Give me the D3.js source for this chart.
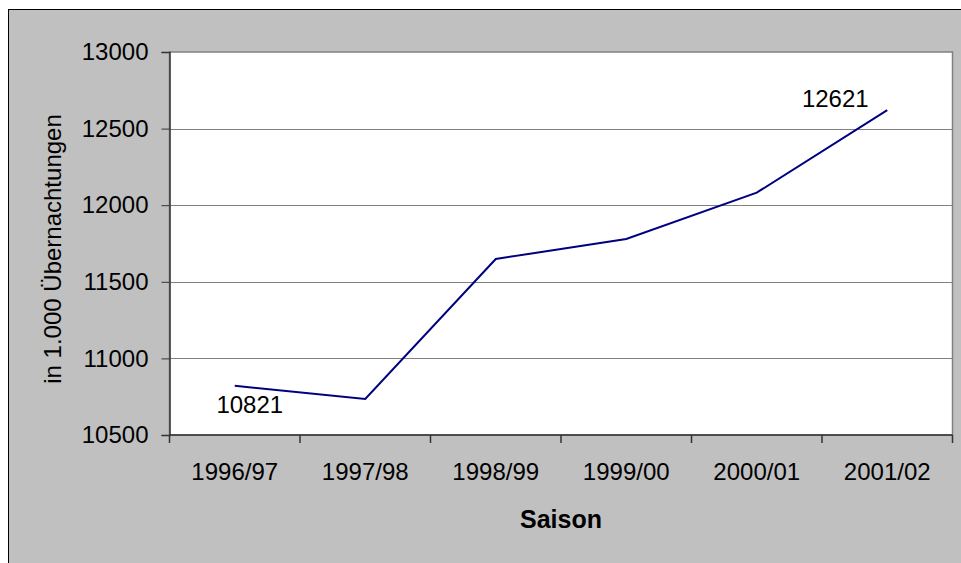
<!DOCTYPE html>
<html>
<head>
<meta charset="utf-8">
<script src="https://cdn.jsdelivr.net/npm/d3@7"></script>
<style>
  body { margin: 0; background: #fff; }
  svg { display: block; font-family: Arial, "Liberation Sans", sans-serif; }
</style>
</head>
<body>
<script>
//chart data
var seasons = ["1996/97", "1997/98", "1998/99", "1999/00", "2000/01", "2001/02"];
var nights = [10821, 10735, 11649, 11779, 12082, 12621];
var yTicks = [10500, 11000, 11500, 12000, 12500, 13000];
var labelled = [0, 5]; //points with a data label

window.onload = drawChart();

function drawChart(){
    var width = 961,
        height = 563;

    var svg = d3.select("body")
        .append("svg")
        .attr("width", width)
        .attr("height", height);

    //outer chart area (runs off the right and bottom edge)
    svg.append("rect")
        .attr("x", 8.5)
        .attr("y", 9.5)
        .attr("width", 970)
        .attr("height", 580)
        .attr("fill", "#c0c0c0")
        .attr("stroke", "#000")
        .attr("stroke-width", 1);

    //plot area bounds
    var left = 169.5, right = 952.5, top = 52, bottom = 435;

    var x = d3.scaleBand()
        .domain(seasons)
        .range([left, right]);

    var y = d3.scaleLinear()
        .domain([10500, 13000])
        .range([bottom, top]);

    svg.append("rect")
        .attr("x", left)
        .attr("y", top)
        .attr("width", right - left)
        .attr("height", bottom - top)
        .attr("fill", "#fff")
        .attr("stroke", "#808080")
        .attr("stroke-width", 1.5);

    //gridlines
    svg.selectAll(".grid")
        .data(yTicks.slice(1, -1))
        .enter()
        .append("line")
        .attr("class", "grid")
        .attr("x1", left)
        .attr("x2", right)
        .attr("y1", function(d){ return Math.round(y(d)) + 0.5; })
        .attr("y2", function(d){ return Math.round(y(d)) + 0.5; })
        .attr("stroke", "#808080")
        .attr("stroke-width", 1);

    //y axis
    var yAxis = svg.append("g")
        .attr("transform", "translate(" + left + ",0)")
        .call(d3.axisLeft(y).tickValues(yTicks).tickSize(8).tickPadding(13).tickFormat(d3.format("d")));
    yAxis.select(".domain").attr("stroke", "#333").attr("stroke-width", 1.5);
    yAxis.selectAll(".tick line").attr("stroke", "#333");
    yAxis.selectAll(".tick text")
        .attr("font-size", "24px")
        .attr("fill", "#000")
        .attr("font-family", "Arial, 'Liberation Sans', sans-serif");

    //x axis, ticks between the categories
    var bounds = d3.range(seasons.length + 1).map(function(i){ return left + i * x.step(); });
    svg.append("line")
        .attr("x1", left)
        .attr("x2", right)
        .attr("y1", bottom)
        .attr("y2", bottom)
        .attr("stroke", "#333")
        .attr("stroke-width", 1.5);
    svg.selectAll(".xtick")
        .data(bounds)
        .enter()
        .append("line")
        .attr("class", "xtick")
        .attr("x1", function(d){ return d; })
        .attr("x2", function(d){ return d; })
        .attr("y1", bottom)
        .attr("y2", bottom + 8)
        .attr("stroke", "#333")
        .attr("stroke-width", 1.5);
    svg.selectAll(".xlabel")
        .data(seasons)
        .enter()
        .append("text")
        .attr("class", "xlabel")
        .attr("x", function(d){ return x(d) + x.bandwidth() / 2; })
        .attr("y", 480)
        .attr("text-anchor", "middle")
        .attr("font-size", "24px")
        .text(function(d){ return d; });

    //axis titles
    svg.append("text")
        .attr("x", (left + right) / 2)
        .attr("y", 528)
        .attr("text-anchor", "middle")
        .attr("font-size", "25px")
        .attr("font-weight", "bold")
        .text("Saison");

    svg.append("text")
        .attr("transform", "translate(61,249) rotate(-90)")
        .attr("text-anchor", "middle")
        .attr("font-size", "24px")
        .text("in 1.000 Übernachtungen");

    //line
    var line = d3.line()
        .x(function(d, i){ return x(seasons[i]) + x.bandwidth() / 2; })
        .y(function(d){ return y(d); });

    svg.append("path")
        .datum(nights)
        .attr("d", line)
        .attr("fill", "none")
        .attr("stroke", "#000080")
        .attr("stroke-width", 2);

    //data labels
    svg.selectAll(".dlabel")
        .data(labelled)
        .enter()
        .append("text")
        .attr("class", "dlabel")
        .attr("x", function(i){ return x(seasons[i]) + x.bandwidth() / 2 + (i === 0 ? 15 : -52); })
        .attr("y", function(i){ return y(nights[i]) + (i === 0 ? 27 : -3); })
        .attr("text-anchor", "middle")
        .attr("font-size", "24px")
        .text(function(i){ return nights[i]; });
}
</script>
</body>
</html>
